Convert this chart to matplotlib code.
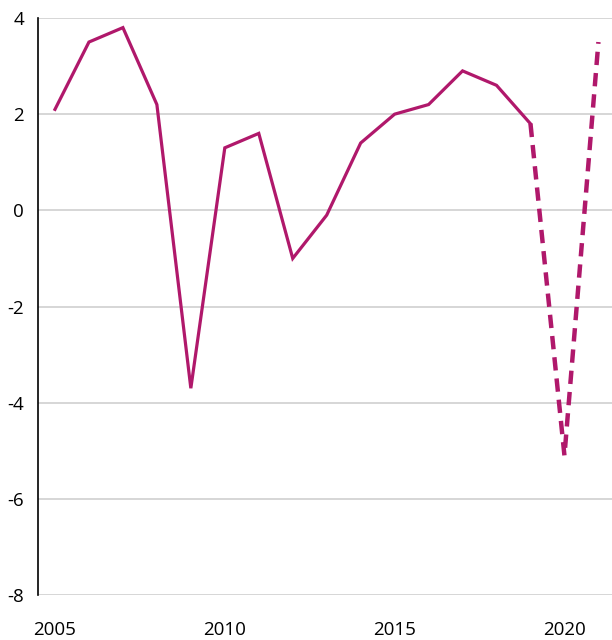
import matplotlib.pyplot as plt

years = [2005, 2006, 2007, 2008, 2009, 2010, 2011, 2012, 2013, 2014,
         2015, 2016, 2017, 2018, 2019]
growth = [2.1, 3.5, 3.8, 2.2, -3.7, 1.3, 1.6, -1.0, -0.1, 1.4,
          2.0, 2.2, 2.9, 2.6, 1.8]
fc_years = [2019, 2020, 2021]
fc_growth = [1.8, -5.1, 3.5]

color = "#b0186b"
plt.rcParams["font.family"] = ["Open Sans", "DejaVu Sans"]
plt.rcParams["axes.unicode_minus"] = False

fig = plt.figure(figsize=(6.12, 6.4), dpi=100)
ax = fig.add_axes([38 / 612, 45 / 640, 574 / 612, 577 / 640])

ax.plot(years, growth, color=color, lw=2.3, solid_joinstyle="miter")
ax.plot(fc_years, fc_growth, color=color, lw=3.2, dashes=(3, 1.8))

ax.set_ylim(-8, 4)
ax.set_xlim(2004.5, 2021.4)
ax.set_yticks(range(-8, 5, 2))
ax.set_xticks([2005, 2010, 2015, 2020])
ax.grid(axis="y", color="#d0d0d0", lw=1.2)
ax.set_axisbelow(True)
for s in ["top", "right", "bottom"]:
    ax.spines[s].set_visible(False)
ax.spines["left"].set_linewidth(1.2)
ax.tick_params(length=0, labelsize=13.5, colors="black")
ax.tick_params(axis="y", pad=10)
ax.tick_params(axis="x", pad=19)

fig.savefig("out.png", dpi=100)
